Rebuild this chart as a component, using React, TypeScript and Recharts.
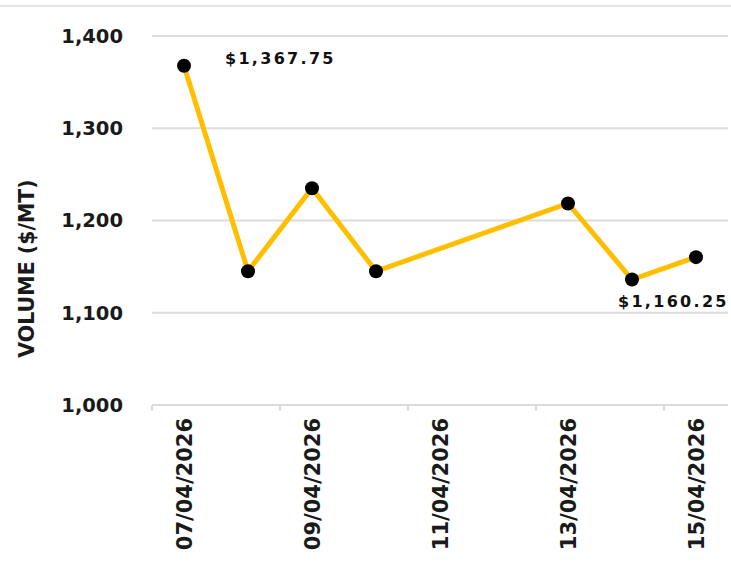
import React from 'react';
import { LineChart, Line, XAxis, YAxis, CartesianGrid, Label } from 'recharts';

// day of April 2026 and price
const days = [7, 8, 9, 10, 13, 14, 15];
const prices = [1367.75, 1145, 1235, 1145, 1218.5, 1136, 1160.25];

const yTicks = [1000, 1100, 1200, 1300, 1400];
const labelDays = [7, 9, 11, 13, 15];
const markDays = [6.5, 8.5, 10.5, 12.5, 14.5];

const data = days.map((d, i) => ({ day: d, price: prices[i] }));

const FONT = '"DejaVu Sans", sans-serif';
const LINE = '#FFBF00';
const GRID = '#DCDCDC';

const pad = (n: number) => (n < 10 ? '0' + n : '' + n);
const fmtPrice = (v: number) =>
  '$' + v.toLocaleString('en-US', { minimumFractionDigits: 2, maximumFractionDigits: 2 });

const XTick = (props: any) => {
  const { x, y, payload } = props;
  const v = payload.value as number;
  const axisY = y - 8;
  if (markDays.includes(v)) {
    return <line x1={x} x2={x} y1={axisY} y2={axisY + 6} stroke={GRID} strokeWidth={2} />;
  }
  const ty = axisY + 13;
  return (
    <text
      x={x}
      y={ty}
      transform={`rotate(-90, ${x}, ${ty})`}
      textAnchor="end"
      dy="0.36em"
      fontFamily={FONT}
      fontWeight="bold"
      fontSize={21}
      fill="#1a1a1a"
    >
      {`${pad(v)}/04/2026`}
    </text>
  );
};

const Dot = (props: any) => {
  const { cx, cy, index } = props;
  return <circle key={index} cx={cx} cy={cy} r={7} fill="#000" />;
};

const PriceLabel = (props: any) => {
  const { x, y, index, value } = props;
  const last = data.length - 1;
  if (index !== 0 && index !== last) return null;
  const dx = index === 0 ? 41 : -78;
  const dy = index === 0 ? -6 : 45;
  return (
    <text
      key={index}
      x={x + dx}
      y={y + dy}
      dominantBaseline="middle"
      fontFamily={FONT}
      fontWeight="bold"
      fontSize={16}
      letterSpacing={2.3}
      fill="#111"
    >
      {fmtPrice(value)}
    </text>
  );
};

export default function App() {
  const allTicks = [...markDays, ...labelDays].sort((a, b) => a - b);
  return (
    <div style={{ position: 'absolute', left: 0, top: 0, width: 731, height: 568, background: '#fff' }}>
      <div style={{ position: 'absolute', left: 0, top: 5, width: 731, height: 2, background: '#E4E4E4' }} />
      <LineChart width={731} height={568} data={data} margin={{ top: 36, right: 3, left: 0, bottom: 0 }}>
        <CartesianGrid vertical={false} stroke={GRID} strokeWidth={2} />
        <XAxis
          dataKey="day"
          type="number"
          domain={[6.5, 15.5]}
          ticks={allTicks}
          interval={0}
          height={163}
          tickLine={false}
          axisLine={{ stroke: GRID, strokeWidth: 2 }}
          tick={<XTick />}
        />
        <YAxis
          domain={[1000, 1400]}
          ticks={yTicks}
          width={152}
          axisLine={false}
          tickLine={false}
          tickSize={6}
          tickMargin={23}
          tickFormatter={(v: number) => v.toLocaleString('en-US')}
          tick={{ fontFamily: FONT, fontWeight: 'bold', fontSize: 19.5, fill: '#1a1a1a' }}
        >
          <Label
            content={(p: any) => {
              const vb = p.viewBox;
              const cx = vb.x + 27;
              const cy = vb.y + vb.height / 2 + 48;
              return (
                <text
                  x={cx}
                  y={cy}
                  transform={`rotate(-90, ${cx}, ${cy})`}
                  textAnchor="middle"
                  dominantBaseline="central"
                  fontFamily={FONT}
                  fontWeight="bold"
                  fontSize={20.5}
                  fill="#1a1a1a"
                >
                  VOLUME ($/MT)
                </text>
              );
            }}
          />
        </YAxis>
        <Line
          type="linear"
          dataKey="price"
          stroke={LINE}
          strokeWidth={5}
          dot={<Dot />}
          activeDot={false}
          label={<PriceLabel />}
          isAnimationActive={false}
        />
      </LineChart>
    </div>
  );
}
